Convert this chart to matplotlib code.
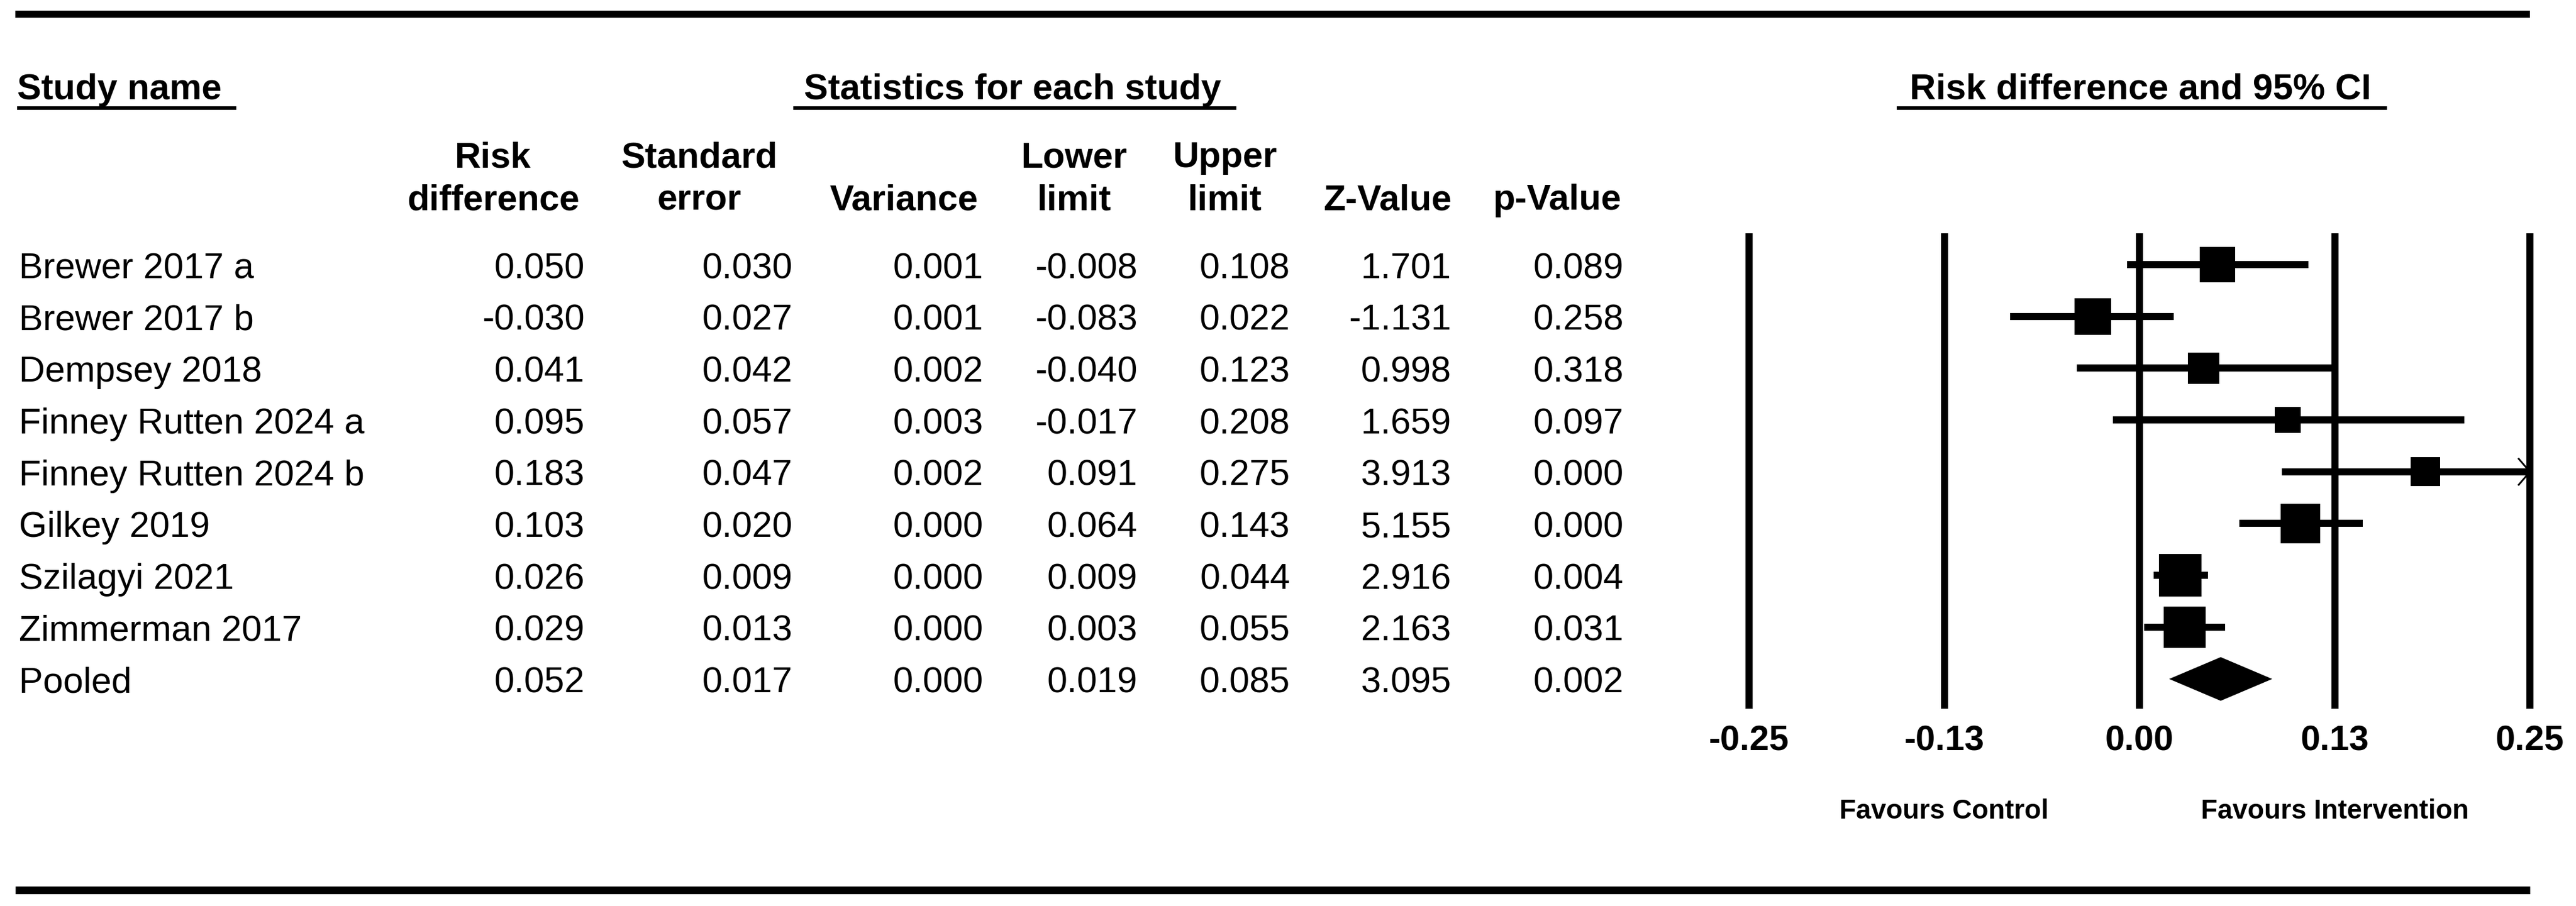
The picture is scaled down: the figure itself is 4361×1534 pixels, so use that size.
import numpy as np
import matplotlib
matplotlib.use("Agg")
import matplotlib.pyplot as plt
from matplotlib.transforms import blended_transform_factory

plt.rcParams['font.family'] = ['Liberation Sans', 'DejaVu Sans']

# data
studies = ["Brewer 2017 a", "Brewer 2017 b", "Dempsey 2018", "Finney Rutten 2024 a",
           "Finney Rutten 2024 b", "Gilkey 2019", "Szilagyi 2021", "Zimmerman 2017", "Pooled"]
risk_diff = [0.050, -0.030, 0.041, 0.095, 0.183, 0.103, 0.026, 0.029, 0.052]
std_err = [0.030, 0.027, 0.042, 0.057, 0.047, 0.020, 0.009, 0.013, 0.017]
variance = [0.001, 0.001, 0.002, 0.003, 0.002, 0.000, 0.000, 0.000, 0.000]
lower = [-0.008, -0.083, -0.040, -0.017, 0.091, 0.064, 0.009, 0.003, 0.019]
upper = [0.108, 0.022, 0.123, 0.208, 0.275, 0.143, 0.044, 0.055, 0.085]
z_val = [1.701, -1.131, 0.998, 1.659, 3.913, 5.155, 2.916, 2.163, 3.095]
p_val = [0.089, 0.258, 0.318, 0.097, 0.000, 0.000, 0.004, 0.031, 0.002]
tau2 = 0.0018  # estimated between-study variance (sets box sizes)

tick_vals = [-0.25, -0.125, 0.0, 0.125, 0.25]
tick_labels = ["-0.25", "-0.13", "0.00", "0.13", "0.25"]

# layout in pixels
W, H = 4361, 1534
PT = 0.72  # points per pixel at dpi 100
row0, row_step = 448, 87.7
plot_left, plot_right = 2961, 4283
plot_top, plot_bot = 401, 1194

fig = plt.figure(figsize=(W / 100, H / 100), dpi=100)

# full-figure axes for the table part
ax_t = fig.add_axes([0, 0, 1, 1])
ax_t.set_xlim(0, W)
ax_t.set_ylim(H, 0)
ax_t.axis('off')

# thick rules top and bottom
ax_t.plot([26, 4283], [24, 24], color='k', lw=12 * PT, solid_capstyle='butt')
ax_t.plot([26, 4283], [1507, 1507], color='k', lw=13 * PT, solid_capstyle='butt')

# section headers with underlines
fs = 44
ax_t.text(29, 168, "Study name", fontsize=fs, fontweight='bold', ha='left', va='baseline')
ax_t.plot([29, 400], [183, 183], color='k', lw=6 * PT, solid_capstyle='butt')
ax_t.text(1714, 168, "Statistics for each study", fontsize=fs, fontweight='bold', ha='center', va='baseline')
ax_t.plot([1343, 2093], [183, 183], color='k', lw=6 * PT, solid_capstyle='butt')
ax_t.text(3624, 168, "Risk difference and 95% CI", fontsize=fs, fontweight='bold', ha='center', va='baseline')
ax_t.plot([3211, 4041], [183, 183], color='k', lw=6 * PT, solid_capstyle='butt')

# column headers
col_heads = [("Risk", "difference"), ("Standard", "error"), ("", "Variance"),
             ("Lower", "limit"), ("Upper", "limit"), ("", "Z-Value"), ("", "p-Value")]
head_x = [835, 1184, 1530, 1819, 2074, 2349, 2637]
right_x = [990, 1342, 1665, 1926, 2184, 2457, 2749]
for (h1, h2), hx in zip(col_heads, head_x):
    ax_t.text(hx, 283, h1, fontsize=fs, fontweight='bold', ha='center', va='baseline')
    ax_t.text(hx, 355, h2, fontsize=fs, fontweight='bold', ha='center', va='baseline')

# table rows
columns = [risk_diff, std_err, variance, lower, upper, z_val, p_val]
for i, name in enumerate(studies):
    yb = row0 + i * row_step + 23
    ax_t.text(32, yb, name, fontsize=fs, ha='left', va='baseline')
    for col, rx in zip(columns, right_x):
        ax_t.text(rx, yb, f"{col[i]:.3f}", fontsize=fs, ha='right', va='baseline')

# forest plot axes
ax = fig.add_axes([plot_left / W, 1 - plot_bot / H,
                   (plot_right - plot_left) / W, (plot_bot - plot_top) / H])
ax.set_facecolor('none')
ax.set_xlim(-0.25, 0.25)
ax.set_ylim((plot_bot - row0) / row_step, (plot_top - row0) / row_step)
for s in ax.spines.values():
    s.set_visible(False)
ax.set_yticks([])
ax.set_xticks(tick_vals, tick_labels, fontsize=43, fontweight='bold')
ax.tick_params(axis='x', length=0, pad=24)

for v in tick_vals:
    ax.axvline(v, color='k', lw=12 * PT, clip_on=False, zorder=1)

rows = np.arange(len(studies))
n = len(studies) - 1
rd = np.array(risk_diff)
lo = np.array(lower)
hi = np.array(upper)
se = np.array(std_err[:n])

# confidence intervals, clipped at the axis end
ax.hlines(rows[:n], lo[:n], np.minimum(hi[:n], 0.25), color='k', lw=12 * PT,
          capstyle='butt', zorder=2, clip_on=False)
for i in range(n):
    if hi[i] > 0.25:
        dx = 19 / (plot_right - plot_left) * 0.5
        dy = 22 / row_step
        ax.plot([0.25 - dx, 0.25, 0.25 - dx], [rows[i] - dy, rows[i], rows[i] + dy],
                color='k', lw=3 * PT, clip_on=False, zorder=3)

# boxes sized by random-effects weight
w = 1 / (se ** 2 + tau2)
side = 72 * np.sqrt(w / w.max())
ax.scatter(rd[:n], rows[:n], marker='s', s=(side * PT) ** 2, c='k', linewidths=0, zorder=3)

# pooled diamond
h = 37 / row_step
r = rows[n]
ax.fill([lo[n], rd[n], hi[n], rd[n]], [r, r - h, r, r + h], color='k', lw=0, zorder=3)

# favours labels
blend = blended_transform_factory(ax.transData, ax_t.transData)
ax.text(-0.125, 1386, "Favours Control", transform=blend, fontsize=33, fontweight='bold',
        ha='center', va='baseline')
ax.text(0.125, 1386, "Favours Intervention", transform=blend, fontsize=33, fontweight='bold',
        ha='center', va='baseline')

fig.savefig("out.png", dpi=100)
